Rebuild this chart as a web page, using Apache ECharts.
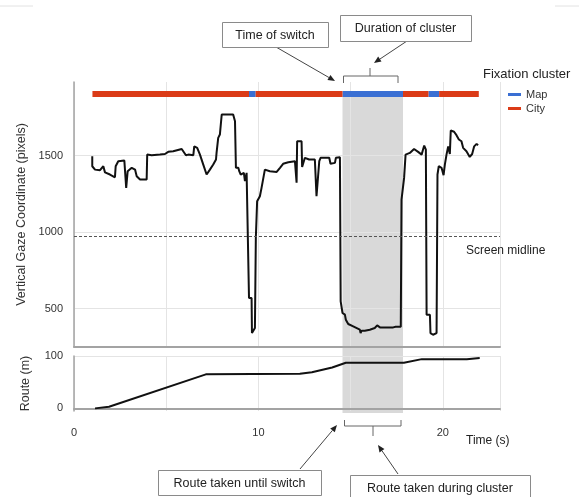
<!DOCTYPE html>
<html>
<head>
<meta charset="utf-8">
<script src="https://cdn.jsdelivr.net/npm/echarts@6/dist/echarts.min.js"></script>
<style>html,body{margin:0;padding:0;background:#fff}#main{width:579px;height:497px}</style>
</head>
<body>
<div id="main"></div>
<script>
// gaze trace (time in s, vertical coordinate in px)
var gazeTime = [0.99,0.99,1.14,1.41,1.59,1.68,1.95,2.22,2.26,2.40,2.73,2.78,2.83,2.91,3.13,3.31,3.40,3.58,3.94,3.97,4.21,4.66,4.93,5.11,5.38,5.84,5.92,6.07,6.20,6.47,6.52,6.68,6.83,7.01,7.19,7.37,7.55,7.70,7.73,7.82,7.91,8.01,8.63,8.73,8.78,8.91,8.96,9.04,9.21,9.27,9.36,9.45,9.49,9.63,9.65,9.81,9.86,9.93,10.08,10.17,10.35,10.62,10.99,11.17,11.34,11.62,11.98,12.07,12.10,12.34,12.37,12.52,12.75,12.79,13.06,13.15,13.30,13.37,13.84,13.91,14.15,14.20,14.42,14.46,14.56,14.69,14.74,14.87,15.14,15.50,15.54,15.59,15.77,16.04,16.31,16.44,16.59,17.31,17.36,17.44,17.72,17.76,17.90,17.98,18.21,18.44,18.66,18.85,18.93,18.99,19.08,19.12,19.30,19.33,19.47,19.66,19.71,19.78,19.93,20.04,20.11,20.20,20.29,20.38,20.43,20.61,20.74,20.87,21.01,21.10,21.28,21.46,21.59,21.70,21.83,21.91];
var gazeValue = [1495,1430,1408,1404,1430,1390,1376,1358,1430,1463,1467,1467,1289,1398,1420,1408,1365,1343,1343,1506,1502,1506,1510,1524,1528,1543,1539,1502,1506,1502,1560,1550,1506,1441,1376,1408,1441,1474,1517,1615,1637,1768,1768,1724,1420,1420,1398,1376,1387,1333,1387,1376,570,570,341,374,962,1201,1234,1289,1408,1397,1393,1420,1446,1456,1463,1322,1593,1593,1425,1485,1474,1485,1474,1234,1463,1485,1485,1446,1452,1485,1489,548,472,461,428,400,385,363,341,356,356,363,374,391,378,378,389,382,382,1212,1354,1506,1517,1543,1524,1506,1506,1565,1539,461,461,341,330,341,1376,1430,1420,1372,1441,1506,1560,1510,1663,1655,1633,1605,1593,1550,1528,1491,1510,1560,1576,1567];

// route taken (m)
var routeTime = [1.14,1.90,7.15,12.25,12.9,14.0,14.74,17.89,18.86,21.30,22.0];
var routeValue = [0,3,65,66,69,78,87,87,94,94,96];

// fixation clusters
var clusterStart = [1.0,9.49,9.85,14.56,17.84,19.22,19.8];
var clusterEnd   = [9.49,9.85,14.56,17.84,19.22,19.8,21.95];
var clusterType  = ['City','Map','City','Map','City','Map','City'];

var highlightStart = 14.56, highlightEnd = 17.84;
var midline = 975;
var gazeTicks = [500, 1000, 1500];
var routeTicks = [0, 100];

var FONT = 'Liberation Sans, Arial, sans-serif';
var gridCol = '#e4e4e4', axisCol = '#a3a3a3';
var colors = { Map: '#3a6fd3', City: '#db3b17' };

var chart = echarts.init(document.getElementById('main'));

function pairs(xs, ys) { return xs.map(function (x, i) { return [x, ys[i]]; }); }
function segs(type) {
  var out = [];
  clusterType.forEach(function (t, i) { if (t === type) out.push([clusterStart[i], clusterEnd[i]]); });
  return out;
}
function renderSeg(params, api) {
  var p0 = api.coord([api.value(0), 0]);
  var p1 = api.coord([api.value(1), 0]);
  var cs = params.coordSys;
  return { type: 'rect', shape: { x: p0[0], y: cs.y, width: p1[0] - p0[0], height: cs.height },
           style: { fill: api.visual('color') } };
}
function plain(v) { return String(v); }

var xMax = 23.1;
var grids = [
  { left: 74, right: 79, top: 91, height: 6 },
  { left: 74, right: 79, top: 82, height: 265 },
  { left: 74, right: 79, top: 356, height: 55 }
];

var option = {
  animation: false,
  textStyle: { fontFamily: FONT },
  title: { text: 'Fixation cluster', left: 478, top: 63,
           textStyle: { fontSize: 13, fontWeight: 'normal', color: '#222', fontFamily: FONT } },
  legend: {
    data: [{ name: 'Map', icon: 'rect' }, { name: 'City', icon: 'rect' }],
    orient: 'vertical', left: 503, top: 84, itemWidth: 13, itemHeight: 3, itemGap: 3,
    textStyle: { fontSize: 11, color: '#333', fontFamily: FONT }
  },
  grid: grids,
  xAxis: [
    { gridIndex: 0, type: 'value', min: 0, max: xMax, show: false },
    { gridIndex: 1, type: 'value', min: 0, max: xMax, interval: 5,
      axisLine: { lineStyle: { color: axisCol, width: 2 } }, axisTick: { show: false },
      axisLabel: { show: false }, splitLine: { lineStyle: { color: gridCol } } },
    { gridIndex: 2, type: 'value', min: 0, max: xMax, interval: 5,
      axisLine: { lineStyle: { color: axisCol, width: 2 } }, axisTick: { show: false },
      axisLabel: { margin: 16, fontSize: 11, color: '#333', fontFamily: FONT,
                   formatter: function (v) { return v % 10 === 0 ? String(v) : ''; } },
      splitLine: { lineStyle: { color: gridCol } } }
  ],
  yAxis: [
    { gridIndex: 0, type: 'value', min: 0, max: 1, show: false },
    { gridIndex: 1, type: 'value', min: 250, max: 1980,
      name: 'Vertical Gaze Coordinate (pixels)', nameLocation: 'middle', nameGap: 42,
      nameTextStyle: { fontSize: 12.5, color: '#333', fontFamily: FONT },
      axisLine: { show: true, lineStyle: { color: axisCol, width: 1.5 } },
      axisTick: { show: false, customValues: gazeTicks },
      axisLabel: { customValues: gazeTicks, formatter: plain, margin: 11, fontSize: 11, color: '#333', fontFamily: FONT },
      splitLine: { lineStyle: { color: gridCol } } },
    { gridIndex: 2, type: 'value', min: -5, max: 100,
      name: 'Route (m)', nameLocation: 'middle', nameGap: 42,
      nameTextStyle: { fontSize: 12.5, color: '#333', fontFamily: FONT },
      axisLine: { show: true, lineStyle: { color: axisCol, width: 1.5 } },
      axisTick: { show: false, customValues: routeTicks },
      axisLabel: { customValues: routeTicks, formatter: plain, margin: 11, fontSize: 11, color: '#333', fontFamily: FONT },
      splitLine: { lineStyle: { color: gridCol } } }
  ],
  series: [
    { name: 'Map', type: 'custom', xAxisIndex: 0, yAxisIndex: 0, renderItem: renderSeg,
      itemStyle: { color: colors.Map }, encode: { x: [0, 1] }, data: segs('Map'), z: 5 },
    { name: 'City', type: 'custom', xAxisIndex: 0, yAxisIndex: 0, renderItem: renderSeg,
      itemStyle: { color: colors.City }, encode: { x: [0, 1] }, data: segs('City'), z: 5 },
    { name: 'gaze', type: 'line', xAxisIndex: 1, yAxisIndex: 1, data: pairs(gazeTime, gazeValue),
      showSymbol: false, lineStyle: { color: '#111', width: 2 }, itemStyle: { color: '#111' },
      markLine: { silent: true, symbol: 'none', label: { show: false },
        lineStyle: { type: [3, 2], color: '#555', width: 1 }, data: [{ yAxis: midline }] } },
    { name: 'route', type: 'line', xAxisIndex: 2, yAxisIndex: 2, data: pairs(routeTime, routeValue),
      showSymbol: false, lineStyle: { color: '#111', width: 2 }, itemStyle: { color: '#111' } }
  ]
};

option && chart.setOption(option);

// annotations
function arrow(x1, y1, x2, y2) {
  var a = Math.atan2(y2 - y1, x2 - x1), L = 7, W = 3;
  var bx = x2 - L * Math.cos(a), by = y2 - L * Math.sin(a);
  return [
    { type: 'line', shape: { x1: x1, y1: y1, x2: bx, y2: by }, style: { stroke: '#444', lineWidth: 1 } },
    { type: 'polygon', shape: { points: [[x2, y2],
        [bx + W * Math.sin(a), by - W * Math.cos(a)], [bx - W * Math.sin(a), by + W * Math.cos(a)]] },
      style: { fill: '#222' } }
  ];
}
function box(x, y, w, h, text) {
  return [
    { type: 'rect', shape: { x: x + 0.5, y: y + 0.5, width: w, height: h },
      style: { fill: '#fff', stroke: '#8a8a8a', lineWidth: 1 } },
    { type: 'text', x: x + w / 2, y: y + h / 2 + 1,
      style: { text: text, fontSize: 12.5, fontFamily: FONT, fill: '#222', align: 'center', verticalAlign: 'middle' } }
  ];
}
var hx0 = chart.convertToPixel({ gridIndex: 2 }, [highlightStart, 0])[0];
var hx1 = chart.convertToPixel({ gridIndex: 2 }, [highlightEnd, 0])[0];
var shadeTop = grids[0].top + grids[0].height - 1;
var shadeBottom = grids[2].top + grids[2].height + 2;

var g = [
  { type: 'rect', z: -1, shape: { x: hx0, y: shadeTop, width: hx1 - hx0, height: shadeBottom - shadeTop },
    style: { fill: '#d9d9d9' } },
  { type: 'line', shape: { x1: 0, y1: 6, x2: 33, y2: 6 }, style: { stroke: '#e2e2e2', lineWidth: 1 } },
  { type: 'line', shape: { x1: 555, y1: 6, x2: 579, y2: 6 }, style: { stroke: '#e2e2e2', lineWidth: 1 } },
  // top bracket
  { type: 'polyline', shape: { points: [[hx0 + 1, 83], [hx0 + 1, 76], [398, 76], [398, 83]] },
    style: { stroke: '#666', lineWidth: 1, fill: null } },
  { type: 'line', shape: { x1: 370, y1: 76, x2: 370, y2: 68 }, style: { stroke: '#666', lineWidth: 1 } },
  // bottom bracket
  { type: 'polyline', shape: { points: [[hx0 + 2, 420], [hx0 + 2, 426], [401, 426], [401, 420]] },
    style: { stroke: '#666', lineWidth: 1, fill: null } },
  { type: 'line', shape: { x1: 373, y1: 426, x2: 373, y2: 436 }, style: { stroke: '#666', lineWidth: 1 } },
  { type: 'text', x: 466, y: 245, style: { text: 'Screen midline', fontSize: 12, fontFamily: FONT, fill: '#222' } },
  { type: 'text', x: 466, y: 435, style: { text: 'Time (s)', fontSize: 12, fontFamily: FONT, fill: '#222' } }
];
g = g.concat(arrow(276, 47, 335, 81), arrow(407, 41, 374, 63),
  arrow(300, 469, 337, 425), arrow(398, 474, 378, 445),
  box(222, 22, 106, 25, 'Time of switch'), box(340, 15, 131, 26, 'Duration of cluster'),
  box(158, 470, 163, 25, 'Route taken until switch'), box(350, 475, 180, 26, 'Route taken during cluster'));

chart.setOption({ graphic: { elements: g } });
</script>
</body>
</html>
